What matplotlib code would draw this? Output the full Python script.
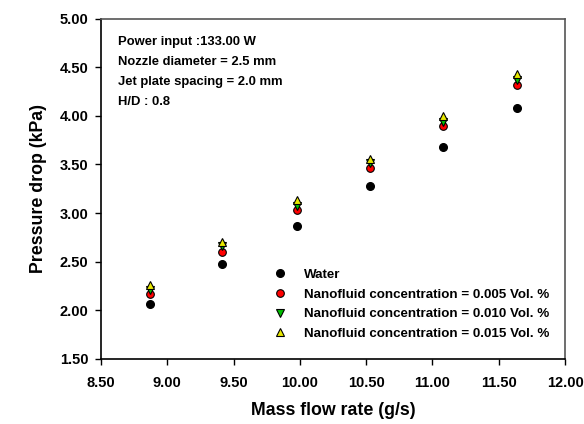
import matplotlib.pyplot as plt

plt.rcParams['font.family'] = ['Liberation Sans', 'DejaVu Sans']
plt.rcParams['font.weight'] = 'bold'

mass_flow = [8.87, 9.41, 9.98, 10.53, 11.08, 11.64]
water = [2.07, 2.48, 2.87, 3.28, 3.68, 4.08]
conc_005 = [2.17, 2.60, 3.03, 3.46, 3.90, 4.32]
conc_010 = [2.21, 2.66, 3.07, 3.51, 3.94, 4.37]
conc_015 = [2.26, 2.70, 3.13, 3.56, 4.00, 4.43]

x_ticks = [8.5, 9.0, 9.5, 10.0, 10.5, 11.0, 11.5, 12.0]
y_ticks = [1.5, 2.0, 2.5, 3.0, 3.5, 4.0, 4.5, 5.0]

notes = ['Power input :133.00 W',
         'Nozzle diameter = 2.5 mm',
         'Jet plate spacing = 2.0 mm',
         'H/D : 0.8']

fig = plt.figure(figsize=(5.84, 4.24), dpi=100)
ax = fig.add_axes([101 / 584, 1 - 359 / 424, 464 / 584, 340.5 / 424])

ax.plot(mass_flow, water, 'o', color='black', markersize=5.5, label='Water')
ax.plot(mass_flow, conc_005, 'o', markerfacecolor='red', markeredgecolor='black',
        markeredgewidth=0.8, markersize=5.5, label='Nanofluid concentration = 0.005 Vol. %')
ax.plot(mass_flow, conc_010, 'v', markerfacecolor='#00c000', markeredgecolor='black',
        markeredgewidth=0.8, markersize=5.5, label='Nanofluid concentration = 0.010 Vol. %')
ax.plot(mass_flow, conc_015, '^', markerfacecolor='#e8e800', markeredgecolor='black',
        markeredgewidth=0.8, markersize=5.5, label='Nanofluid concentration = 0.015 Vol. %')

ax.set_xlim(8.5, 12.0)
ax.set_ylim(1.5, 5.0)
ax.set_xticks(x_ticks)
ax.set_yticks(y_ticks)
ax.set_xticklabels([f'{v:.2f}' for v in x_ticks], fontsize=10.5, fontweight='bold')
ax.set_yticklabels([f'{v:.2f}' for v in y_ticks], fontsize=10.5, fontweight='bold')
ax.tick_params(direction='out', length=4, width=1)
ax.tick_params(axis='x', pad=8)
ax.tick_params(axis='y', pad=5)

for side in ['left', 'bottom']:
    ax.spines[side].set_linewidth(1.2)
for side in ['top', 'right']:
    ax.spines[side].set_linewidth(1.2)
    ax.spines[side].set_color('#555555')

ax.set_xlabel('Mass flow rate (g/s)', fontsize=12.8, fontweight='bold', labelpad=9)
ax.set_ylabel('Pressure drop (kPa)', fontsize=12.8, fontweight='bold', labelpad=9)

for i, line in enumerate(notes):
    ax.text(0.037, 0.93 - i * 0.0587, line, transform=ax.transAxes,
            fontsize=9.4, fontweight='bold', va='center')

ax.legend(loc='lower left', bbox_to_anchor=(0.36, 0.04), frameon=False,
          handlelength=1.0, handletextpad=1.3, labelspacing=0.55,
          borderaxespad=0, prop={'weight': 'bold', 'size': 9.6})

fig.savefig('out.png', dpi=100)
